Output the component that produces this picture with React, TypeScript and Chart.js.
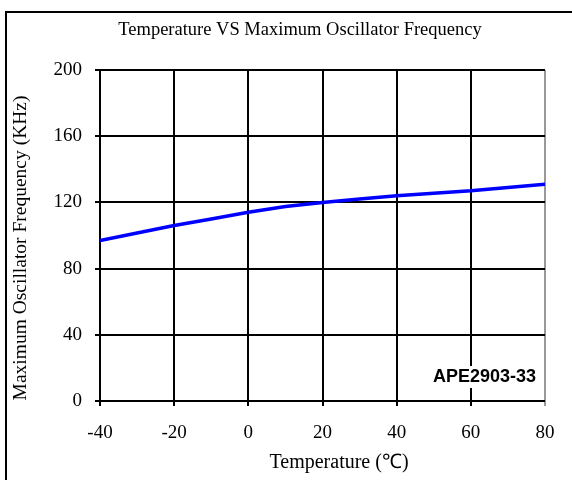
import React, { useEffect, useRef } from "react";
import { Chart, registerables } from "chart.js";

Chart.register(...registerables);

const temperatures = [-40, -30, -20, -10, 0, 10, 20, 30, 40, 50, 60, 70, 80];
const frequencies = [97, 101.5, 106, 110, 114, 117.5, 120, 122, 124, 125.5, 127, 129, 131];
const xTicks = [-40, -20, 0, 20, 40, 60, 80];
const yTicks = [0, 40, 80, 120, 160, 200];
const chartTitle = "Temperature VS Maximum Oscillator Frequency";
const xTitle = "Temperature (℃)";
const yTitle = "Maximum Oscillator Frequency (KHz)";
const partLabel = "APE2903-33";

const SERIF = '"Liberation Serif", "Times New Roman", serif';

const decorPlugin = {
  id: "decor",
  beforeDraw(chart: any) {
    const ctx = chart.ctx;
    ctx.save();
    ctx.fillStyle = "#fff";
    ctx.fillRect(0, 0, chart.width, chart.height);
    ctx.restore();
  },
  afterDatasetsDraw(chart: any) {
    const ctx = chart.ctx;
    ctx.save();
    ctx.font = 'bold 18px "Liberation Sans", Arial, sans-serif';
    const w = ctx.measureText(partLabel).width;
    const right = 536;
    const cy = 377;
    ctx.fillStyle = "#fff";
    ctx.fillRect(right - w - 3, cy - 11, w + 6, 22);
    ctx.fillStyle = "#000";
    ctx.textAlign = "right";
    ctx.textBaseline = "middle";
    ctx.fillText(partLabel, right, cy);
    ctx.restore();
  },
  afterDraw(chart: any) {
    const ctx = chart.ctx;
    ctx.save();
    ctx.fillStyle = "#000";
    ctx.fillRect(5, 11, chart.width, 2);
    ctx.fillRect(5, 11, 2, chart.height);
    ctx.textAlign = "center";
    ctx.textBaseline = "middle";
    ctx.font = "18.5px " + SERIF;
    ctx.fillText(chartTitle, 300, 30);
    ctx.font = "20px " + SERIF;
    ctx.fillText(xTitle, 339, 463);
    ctx.font = "19.5px " + SERIF;
    ctx.translate(21, 248);
    ctx.rotate(-Math.PI / 2);
    ctx.fillText(yTitle, 0, 0);
    ctx.restore();
  },
};

export default function App() {
  const ref = useRef<HTMLCanvasElement>(null);
  useEffect(() => {
    if (!ref.current) return;
    const chart = new Chart(ref.current, {
      type: "line",
      data: {
        datasets: [
          {
            data: temperatures.map((t, i) => ({ x: t, y: frequencies[i] })),
            borderColor: "#0000ff",
            borderWidth: 3.5,
            pointRadius: 0,
            tension: 0,
            fill: false,
          },
        ],
      },
      options: {
        responsive: false,
        animation: false,
        devicePixelRatio: 1,
        layout: { padding: { top: 70, right: 27, left: 0, bottom: 0 } },
        plugins: {
          legend: { display: false },
          title: { display: false },
          tooltip: { enabled: false },
        },
        scales: {
          x: {
            type: "linear",
            min: -40,
            max: 80,
            afterBuildTicks: (s: any) => {
              s.ticks = xTicks.map((v) => ({ value: v }));
            },
            afterFit: (s: any) => {
              s.height = 79;
            },
            ticks: {
              color: "#000",
              font: { family: SERIF, size: 19 },
              padding: 16,
              maxRotation: 0,
            },
            grid: {
              color: (c: any) => (c.tick && c.tick.value === 80 ? "#999" : "#000"),
              lineWidth: 2,
              tickLength: 5,
              drawTicks: true,
            },
            border: { display: false },
          },
          y: {
            type: "linear",
            min: 0,
            max: 200,
            afterBuildTicks: (s: any) => {
              s.ticks = yTicks.map((v) => ({ value: v }));
            },
            afterFit: (s: any) => {
              s.width = 100;
            },
            ticks: {
              color: "#000",
              font: { family: SERIF, size: 19 },
              padding: 13,
            },
            grid: {
              color: "#000",
              lineWidth: 2,
              tickLength: 5,
              drawTicks: true,
            },
            border: { display: false },
          },
        },
      },
      plugins: [decorPlugin],
    });
    return () => chart.destroy();
  }, []);
  return (
    <canvas
      ref={ref}
      width={572}
      height={480}
      style={{ position: "absolute", left: 0, top: 0, width: 572, height: 480 }}
    />
  );
}
